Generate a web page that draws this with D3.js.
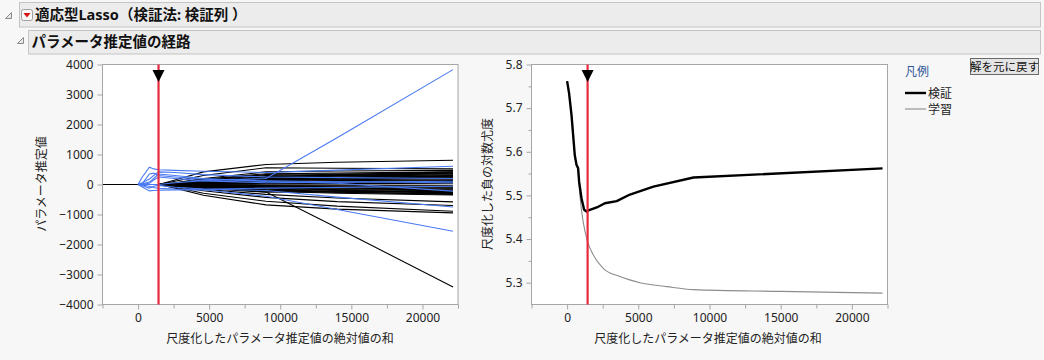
<!DOCTYPE html>
<html><head><meta charset="utf-8">
<script src="https://cdn.jsdelivr.net/npm/d3@7"></script>
<style>
body{margin:0;background:#f7f7f7;}
svg{display:block;font-family:"Noto Sans","Noto Sans CJK JP",sans-serif;}
</style></head><body>
<svg id="c" width="1044" height="360"></svg>
<script>
// ---- data ----
const sumAbsKnots = [0, 300, 800, 1100, 1440, 2600, 4600, 9000, 14000, 22150];
const blueEstimates = [
  [0, 0, 0, 0, 0, 60, 130, 200, 1558, 3830],
  [0, 250, 577, 520, 490, 470, 440, 400, 480, 610],
  [0, -80, -213, -200, -190, -180, -175, -390, -835, -1557],
  [0, -40, -120, -60, -30, -90, -150, -200, -420, -750],
  [0, 60, 180, 300, 420, 400, 330, 250, 230, 200],
  [0, 20, 80, 200, 350, 300, 200, 100, 40, -220],
  [0, -20, -60, -100, -130, -150, -160, -120, -100, -60],
  [0, 30, 350, 380, 300, 250, 180, 120, 90, 60],
  [0, 10, 40, 150, 250, 200, 120, 60, 80, 110]
];
const blackEstimates = [
  [0,0,0,0,0, 150, 420, 667, 740, 810],
  [0,0,0,0,0, -20, -100, -250, -1443, -3413],
  [0,0,0,0,0, -120, -357, -680, -820, -947],
  [0,0,0,0,0, -90, -290, -560, -720, -890],
  [0,0,0,0,0, -70, -210, -430, -570, -700],
  [0,0,0,0,0, -50, -160, -330, -450, -580],
  [0,0,0,0,0, 110, 300, 560, 540, 520],
  [0,0,0,0,0, 60, 200, 420, 450, 470],
  [0,0,0,0,0, 50, 170, 360, 380, 420],
  [0,0,0,0,0, 40, 140, 300, 340, 380],
  [0,0,0,0,0, 35, 120, 260, 310, 350],
  [0,0,0,0,0, 30, 100, 230, 280, 320],
  [0,0,0,0,0, 25, 90, 200, 250, 300],
  [0,0,0,0,0, 20, 80, 180, 230, 270],
  [0,0,0,0,0, 18, 70, 160, 200, 250],
  [0,0,0,0,0, 15, 60, 140, 180, 220],
  [0,0,0,0,0, 12, 50, 120, 160, 190],
  [0,0,0,0,0, 10, 40, 100, 130, 160],
  [0,0,0,0,0, 8, 30, 80, 110, 130],
  [0,0,0,0,0, 6, 20, 60, 90, 100],
  [0,0,0,0,0, 4, 12, 40, 60, 70],
  [0,0,0,0,0, 2, 6, 20, 30, 40],
  [0,0,0,0,0, -2, -6, -15, -20, -25],
  [0,0,0,0,0, -4, -14, -35, -50, -60],
  [0,0,0,0,0, -6, -22, -55, -75, -90],
  [0,0,0,0,0, -8, -30, -75, -100, -120],
  [0,0,0,0,0, -10, -40, -95, -125, -150],
  [0,0,0,0,0, -14, -50, -115, -150, -180],
  [0,0,0,0,0, -18, -60, -135, -175, -210],
  [0,0,0,0,0, -22, -70, -155, -200, -240],
  [0,0,0,0,0, -26, -80, -175, -225, -270],
  [0,0,0,0,0, -30, -95, -200, -255, -310],
  [0,0,0,0,0, -35, -110, -225, -290, -350],
  [0,0,0,0,0, 28, 110, 250, 330, 420],
  [0,0,0,0,0, 22, 85, 210, 300, 380],
  [0,0,0,0,0, -12, -45, -190, -260, -330],
  [0,0,0,0,0, 45, 160, 330, 300, 260],
  [0,0,0,0,0, -40, -130, -260, -240, -220],
  [0,0,0,0,0, 5, 25, 130, 200, 280],
  [0,0,0,0,0, -5, -20, -80, -180, -300]
];
const selectedSum = 1440;
const valSum = [0, 140, 310, 540, 660, 775, 845, 1014, 1197, 1366, 1600, 2180, 2655, 3480, 4415, 6060, 8875, 22150];
const valLik = [5.762, 5.734, 5.684, 5.592, 5.570, 5.562, 5.531, 5.493, 5.467, 5.463, 5.467, 5.474, 5.482, 5.487, 5.502, 5.520, 5.541, 5.562];
const trainSum = [0, 140, 310, 540, 660, 775, 895, 1127, 1437, 1831, 2535, 3710, 5120, 7000, 8875, 14980, 22150];
const trainLik = [5.762, 5.734, 5.684, 5.592, 5.570, 5.555, 5.501, 5.440, 5.394, 5.364, 5.333, 5.314, 5.300, 5.291, 5.284, 5.280, 5.276];
const xMajorTicks = [0, 5000, 10000, 15000, 20000];
const xMinorTicks = [-2500, 2500, 7500, 12500, 17500, 22500];
const leftYTicks = [-4000, -3000, -2000, -1000, 0, 1000, 2000, 3000, 4000];
const rightYMajor = [5.3, 5.4, 5.5, 5.6, 5.7, 5.8];
const rightYMinor = [5.35, 5.45, 5.55, 5.65, 5.75];
const legendTitle = "凡例";
const legendLabels = ["検証", "学習"];
const title1 = "適応型Lasso（検証法: 検証列 ）";
const title2 = "パラメータ推定値の経路";
const xTitle = "尺度化したパラメータ推定値の絶対値の和";
const leftYTitle = "パラメータ推定値";
const rightYTitle = "尺度化した負の対数尤度";
const buttonLabel = "解を元に戻す";

// ---- layout ----
const svg = d3.select("#c");
const TXT = "#222";
const FRAME = "#a6a6a6";
const RED = "#e8283c";
const BLUE = "#4a7af2";

svg.append("rect").attr("x",19.5).attr("y",2.5).attr("width",1021).attr("height",24.5)
  .attr("fill","#ececec").attr("stroke","#c4c4c4");
svg.append("rect").attr("x",28.5).attr("y",30.5).attr("width",1012).attr("height",23.5)
  .attr("fill","#ececec").attr("stroke","#c4c4c4");
svg.append("path").attr("d","M11.5,12.5 L11.5,18.5 L5.5,18.5 Z").attr("fill","#e8e8e8").attr("stroke","#8a8a8a");
svg.append("path").attr("d","M23.5,37.5 L23.5,43.5 L17.5,43.5 Z").attr("fill","#e8e8e8").attr("stroke","#8a8a8a");
svg.append("rect").attr("x",21.5).attr("y",9.5).attr("width",11).attr("height",11).attr("rx",2)
  .attr("fill","#f8f8f8").attr("stroke","#a0a0a0");
svg.append("path").attr("d","M23.5,13 L30.5,13 L27,17.5 Z").attr("fill","#d81010");
svg.append("text").attr("x",35).attr("y",20).attr("font-size",14.5).attr("font-weight","bold")
  .attr("fill","#111").text(title1);
svg.append("text").attr("x",31.5).attr("y",47).attr("font-size",14.5).attr("font-weight","bold")
  .attr("fill","#111").text(title2);

svg.append("rect").attr("x",970.5).attr("y",58.5).attr("width",68).attr("height",16)
  .attr("fill","#e4e4e4").attr("stroke","#6a6a6a");
svg.append("text").attr("x",1004.5).attr("y",70.5).attr("text-anchor","middle").attr("font-size",11.5)
  .attr("fill","#111").text(buttonLabel);

const pTop = 64.5, pBottom = 304.5;
const xDom = [-2500, 22500];

function frameAndAxes(g, x, y, yMajor, yMinor, yFmt) {
  g.append("rect").attr("x",x.range()[0]).attr("y",pTop)
    .attr("width",x.range()[1]-x.range()[0]).attr("height",pBottom-pTop)
    .attr("fill","#fff");
  g.append("g").attr("transform",`translate(0,${pBottom})`)
    .call(d3.axisBottom(x).tickValues(xMajorTicks).tickSize(5).tickPadding(4).tickFormat(d3.format("d")));
  g.append("g").attr("transform",`translate(0,${pBottom})`)
    .call(d3.axisBottom(x).tickValues(xMinorTicks).tickSize(4).tickFormat(""));
  g.append("g").attr("transform",`translate(${x.range()[0]},0)`)
    .call(d3.axisLeft(y).tickValues(yMajor).tickSize(5).tickPadding(4).tickFormat(yFmt));
  if (yMinor) {
    g.append("g").attr("transform",`translate(${x.range()[0]},0)`)
      .call(d3.axisLeft(y).tickValues(yMinor).tickSize(3).tickFormat(""));
  }
  g.selectAll(".domain").remove();
  g.selectAll(".tick line").attr("stroke",FRAME);
  g.selectAll(".tick text").attr("fill",TXT).attr("font-size",12).attr("font-family",'"Noto Sans","Noto Sans CJK JP",sans-serif');
}

function border(g, x) {
  g.append("rect").attr("x",x.range()[0]).attr("y",pTop)
    .attr("width",x.range()[1]-x.range()[0]).attr("height",pBottom-pTop)
    .attr("fill","none").attr("stroke",FRAME);
}

function selector(g, x) {
  const cx = x(selectedSum);
  g.append("line").attr("x1",cx).attr("x2",cx)
    .attr("y1",pTop).attr("y2",pBottom).attr("stroke",RED).attr("stroke-width",2.2);
  g.append("path").attr("d",`M${cx-6},70 L${cx+6},70 L${cx},82 Z`).attr("fill","#000");
}

// ---- left plot ----
const xL = d3.scaleLinear().domain(xDom).range([102.5, 458]);
const yL = d3.scaleLinear().domain([-4000, 4000]).range([pBottom, pTop]);
const gL = svg.append("g");
frameAndAxes(gL, xL, yL, leftYTicks, null, d3.format("d"));
svg.append("clipPath").attr("id","clipL").append("rect")
  .attr("x",102.5).attr("y",pTop).attr("width",355.5).attr("height",pBottom-pTop);
const plotL = gL.append("g").attr("clip-path","url(#clipL)");
const lineL = d3.line().x((d,i)=>xL(sumAbsKnots[i])).y(d=>yL(d));
plotL.append("line").attr("x1",xL(xDom[0])).attr("x2",xL(sumAbsKnots[0]))
  .attr("y1",yL(0)).attr("y2",yL(0)).attr("stroke","#000").attr("stroke-width",1.2);
plotL.selectAll(".blk").data(blackEstimates).enter().append("path")
  .attr("d",lineL).attr("fill","none").attr("stroke","#000").attr("stroke-width",1.1);
plotL.selectAll(".blu").data(blueEstimates).enter().append("path")
  .attr("d",lineL).attr("fill","none").attr("stroke",BLUE).attr("stroke-width",1.1);
border(gL, xL);
selector(gL, xL);
svg.append("text").attr("x",280).attr("y",343).attr("text-anchor","middle").attr("font-size",12)
  .attr("fill",TXT).text(xTitle);
svg.append("text").attr("transform","translate(46,184) rotate(-90)").attr("text-anchor","middle")
  .attr("font-size",12).attr("fill",TXT).text(leftYTitle);

// ---- right plot ----
const xR = d3.scaleLinear().domain(xDom).range([531.5, 887.5]);
const yR = d3.scaleLinear().domain([5.25, 5.8]).range([pBottom, pTop]);
const gR = svg.append("g");
frameAndAxes(gR, xR, yR, rightYMajor, rightYMinor, d3.format(".1f"));
svg.append("clipPath").attr("id","clipR").append("rect")
  .attr("x",531.5).attr("y",pTop).attr("width",356).attr("height",pBottom-pTop);
const plotR = gR.append("g").attr("clip-path","url(#clipR)");
const trainPts = trainSum.map((s,i)=>[s,trainLik[i]]);
const valPts = valSum.map((s,i)=>[s,valLik[i]]);
plotR.append("path").datum(trainPts)
  .attr("d",d3.line().x(d=>xR(d[0])).y(d=>yR(d[1])).curve(d3.curveMonotoneX))
  .attr("fill","none").attr("stroke","#8c8c8c").attr("stroke-width",1.1);
plotR.append("path").datum(valPts)
  .attr("d",d3.line().x(d=>xR(d[0])).y(d=>yR(d[1])))
  .attr("fill","none").attr("stroke","#000").attr("stroke-width",2.4).attr("stroke-linejoin","round");
border(gR, xR);
selector(gR, xR);
svg.append("text").attr("x",708).attr("y",343).attr("text-anchor","middle").attr("font-size",12)
  .attr("fill",TXT).text(xTitle);
svg.append("text").attr("transform","translate(492,184) rotate(-90)").attr("text-anchor","middle")
  .attr("font-size",12).attr("fill",TXT).text(rightYTitle);

// ---- legend ----
svg.append("text").attr("x",905).attr("y",76).attr("font-size",12).attr("fill","#2c5598").text(legendTitle);
const legStyles = [{w:2.4,c:"#000"},{w:1.1,c:"#8c8c8c"}];
legendLabels.forEach((lab,i)=>{
  const yy = 93 + i*16;
  svg.append("line").attr("x1",905).attr("x2",926).attr("y1",yy).attr("y2",yy)
    .attr("stroke",legStyles[i].c).attr("stroke-width",legStyles[i].w);
  svg.append("text").attr("x",928).attr("y",yy+4.5).attr("font-size",12).attr("fill",TXT).text(lab);
});
</script>
</body></html>
